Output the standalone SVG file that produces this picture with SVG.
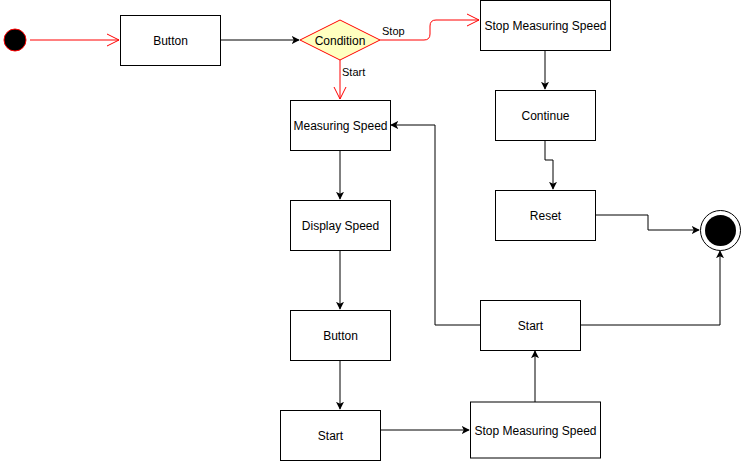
<svg xmlns="http://www.w3.org/2000/svg" width="742" height="461" viewBox="0 0 742 461">
<defs>
<style>
.box{fill:#fff;stroke:#000;stroke-width:1}
.t{font-family:"Liberation Sans",Arial,sans-serif;font-size:12px;fill:#000;text-anchor:middle;dominant-baseline:central}
.lbl{font-family:"Liberation Sans",Arial,sans-serif;font-size:11px;fill:#000}
.e{fill:none;stroke:#000;stroke-width:1}
.r{fill:none;stroke:#ff0000;stroke-width:1}
</style>
<marker id="ab" viewBox="0 0 10 10" refX="9" refY="5" markerWidth="8" markerHeight="8" markerUnits="userSpaceOnUse" orient="auto">
<path d="M0,0 L10,5 L0,10 L2.5,5 Z" fill="#000"/>
</marker>
<marker id="ar" viewBox="0 0 14 14" refX="13" refY="7" markerWidth="14" markerHeight="14" markerUnits="userSpaceOnUse" orient="auto">
<path d="M1,1 L13,7 L1,13" fill="none" stroke="#ff0000" stroke-width="1"/>
</marker>
</defs>
<rect width="742" height="461" fill="#fff"/>
<g id="connectors">
<path class="r" d="M30,40 L119,40" marker-end="url(#ar)"/>
<path class="e" d="M220,40 L299,40" marker-end="url(#ab)"/>
<path class="r" d="M380,40 L424,40 Q430,40 430,34 L430,26 Q430,20 436,20 L479,20" marker-end="url(#ar)"/>
<text class="lbl" x="382" y="35">Stop</text>
<path class="r" d="M340,60 L340,99" marker-end="url(#ar)"/>
<text class="lbl" x="342" y="76">Start</text>
<path class="e" d="M545,50 L545,89" marker-end="url(#ab)"/>
<path class="e" d="M545,140 L545,160 L553,160 L553,189" marker-end="url(#ab)"/>
<path class="e" d="M595,215 L648,215 L648,230 L699,230" marker-end="url(#ab)"/>
<path class="e" d="M340,150 L340,199" marker-end="url(#ab)"/>
<path class="e" d="M340,250 L340,309" marker-end="url(#ab)"/>
<path class="e" d="M340,360 L340,409" marker-end="url(#ab)"/>
<path class="e" d="M380,430 L469,430" marker-end="url(#ab)"/>
<path class="e" d="M535,402 L535,351" marker-end="url(#ab)"/>
<path class="e" d="M480,325 L435,325 L435,125 L391,125" marker-end="url(#ab)"/>
<path class="e" d="M580,325 L720,325 L720,251" marker-end="url(#ab)"/>
</g>
<g id="start"><circle cx="15" cy="40" r="11" fill="#000" stroke="#ff0000" stroke-width="1"/></g>
<g id="button1"><rect class="box" x="120.5" y="15.5" width="100" height="50"/><text class="t" x="170.5" y="40.5">Button</text></g>
<g id="condition"><path d="M340,20 L380,40 L340,60 L300,40 Z" fill="#ffffc0" stroke="#ff0000"/><text class="t" x="340" y="40.5">Condition</text></g>
<g id="stop1"><rect class="box" x="480.5" y="0.5" width="130" height="50"/><text class="t" x="545.5" y="25.5">Stop Measuring Speed</text></g>
<g id="continue"><rect class="box" x="495.5" y="90.5" width="100" height="50"/><text class="t" x="545.5" y="115.5">Continue</text></g>
<g id="reset"><rect class="box" x="495.5" y="190.5" width="100" height="50"/><text class="t" x="545.5" y="215.5">Reset</text></g>
<g id="end"><circle cx="720.5" cy="230.5" r="20" fill="#fff" stroke="#000"/><circle cx="720.5" cy="230.5" r="15.5" fill="#000"/></g>
<g id="measuring"><rect class="box" x="290.5" y="100.5" width="100" height="50"/><text class="t" x="340.5" y="125.5">Measuring Speed</text></g>
<g id="display"><rect class="box" x="290.5" y="200.5" width="100" height="50"/><text class="t" x="340.5" y="225.5">Display Speed</text></g>
<g id="button2"><rect class="box" x="290.5" y="310.5" width="100" height="50"/><text class="t" x="340.5" y="335.5">Button</text></g>
<g id="start2"><rect class="box" x="280.5" y="410.5" width="100" height="50"/><text class="t" x="330.5" y="435.5">Start</text></g>
<g id="stop2"><rect class="box" x="470.5" y="402" width="130" height="56"/><text class="t" x="535.5" y="430.5">Stop Measuring Speed</text></g>
<g id="start3"><rect class="box" x="480.5" y="300.5" width="100" height="50"/><text class="t" x="530.5" y="325.5">Start</text></g>
</svg>
